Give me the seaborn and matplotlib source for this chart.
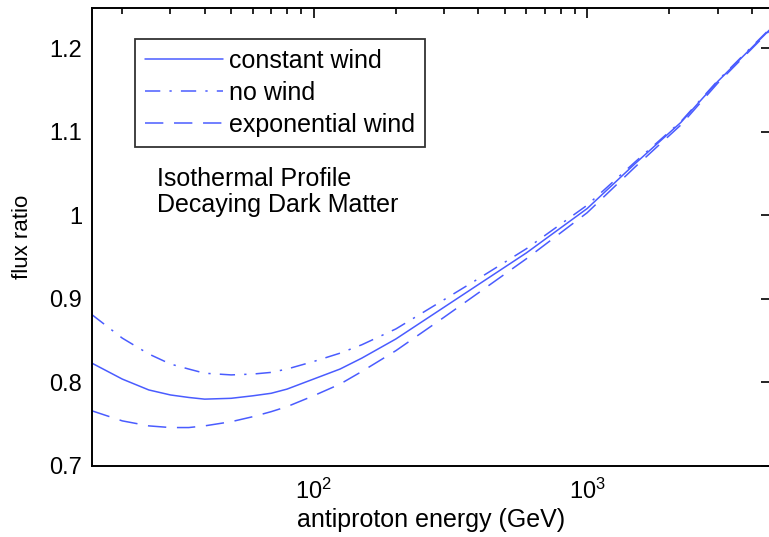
import numpy as np
import pandas as pd
import matplotlib
matplotlib.use("Agg")
import matplotlib.pyplot as plt
import seaborn as sns
from matplotlib.ticker import LogLocator, FixedLocator, NullFormatter, FuncFormatter

# Antiproton flux ratio vs energy for three wind models
energy_gev = [15.5, 20, 25, 30, 35, 40, 50, 60, 70, 80, 100, 125, 150, 200, 300,
              400, 600, 1000, 1500, 2200, 3000, 4650]
constant_wind = [0.823, 0.804, 0.791, 0.785, 0.782, 0.780, 0.781, 0.784, 0.787,
                 0.792, 0.804, 0.816, 0.829, 0.852, 0.890, 0.917, 0.955, 1.008,
                 1.062, 1.111, 1.160, 1.222]
no_wind = [0.881, 0.853, 0.834, 0.822, 0.816, 0.811, 0.809, 0.810, 0.812,
           0.816, 0.825, 0.835, 0.845, 0.864, 0.899, 0.924, 0.960, 1.012,
           1.064, 1.112, 1.161, 1.223]
exponential_wind = [0.766, 0.754, 0.748, 0.746, 0.746, 0.748, 0.753, 0.759, 0.765,
                    0.771, 0.784, 0.798, 0.813, 0.838, 0.878, 0.907, 0.948, 1.003,
                    1.058, 1.108, 1.158, 1.221]

series_labels = ["constant wind", "no wind", "exponential wind"]
y_ticks = [0.7, 0.8, 0.9, 1.0, 1.1, 1.2]
y_tick_labels = ["0.7", "0.8", "0.9", "1", "1.1", "1.2"]

sns.set_theme(style="white")
plt.rcParams["font.family"] = ["Liberation Sans", "DejaVu Sans"]
plt.rcParams["text.color"] = "black"
plt.rcParams["axes.labelcolor"] = "black"
plt.rcParams["mathtext.fontset"] = "custom"
plt.rcParams["mathtext.rm"] = "Liberation Sans"
plt.rcParams["mathtext.it"] = "Liberation Sans"

W, H = 769, 537
fig = plt.figure(figsize=(W / 100, H / 100), dpi=100)
ax = fig.add_axes([92 / W, (H - 466) / H, (771 - 92) / W, (466 - 8) / H])

line_color = "#4a5cff"
styles = {
    "constant wind": dict(linestyle="-"),
    "no wind": dict(linestyle=(0, (10, 6, 1.5, 6))),
    "exponential wind": dict(linestyle=(0, (12, 7))),
}
data = {"constant wind": constant_wind, "no wind": no_wind,
        "exponential wind": exponential_wind}

for name in series_labels:
    df = pd.DataFrame({"energy": energy_gev, "ratio": data[name]})
    sns.lineplot(data=df, x="energy", y="ratio", ax=ax, color=line_color,
                 linewidth=1.1, label=name, **styles[name])

ax.set_xscale("log")
ax.set_xlim(15.5, 4700)
ax.set_ylim(0.7, 1.248)

ax.xaxis.set_major_locator(FixedLocator([100, 1000]))
ax.xaxis.set_major_formatter(FuncFormatter(lambda v, p: r"$10^{%d}$" % round(np.log10(v))))
ax.xaxis.set_minor_locator(LogLocator(base=10, subs=np.arange(2, 10)))
ax.xaxis.set_minor_formatter(NullFormatter())
ax.set_yticks(y_ticks)
ax.set_yticklabels(y_tick_labels)

ax.tick_params(which="both", direction="in", top=True, right=True, colors="black",
               width=1.2)
ax.tick_params(which="major", length=7, labelsize=17, pad=7)
ax.tick_params(which="minor", length=4)
ax.tick_params(axis="x", which="major", pad=9)

for sp in ax.spines.values():
    sp.set_color("black")
    sp.set_linewidth(1.4)

ax.set_xlabel("antiproton energy (GeV)", fontsize=18, color="black", labelpad=3)
ax.set_ylabel("flux ratio", fontsize=16, color="black", labelpad=12)

leg = ax.legend(loc="upper left", bbox_to_anchor=(0.0636, 0.9325), fontsize=18,
                frameon=True, fancybox=False, handlelength=3.1, handletextpad=0.25,
                labelspacing=0.32, borderpad=0.4, borderaxespad=0)
leg.get_frame().set_edgecolor("black")
leg.get_frame().set_linewidth(1.3)
for t in leg.get_texts():
    t.set_color("black")

ax.text(0.096, 0.598, "Isothermal Profile\nDecaying Dark Matter", transform=ax.transAxes,
        fontsize=18, color="black", va="center", ha="left", linespacing=1.12)

fig.savefig("out.png", dpi=100)
